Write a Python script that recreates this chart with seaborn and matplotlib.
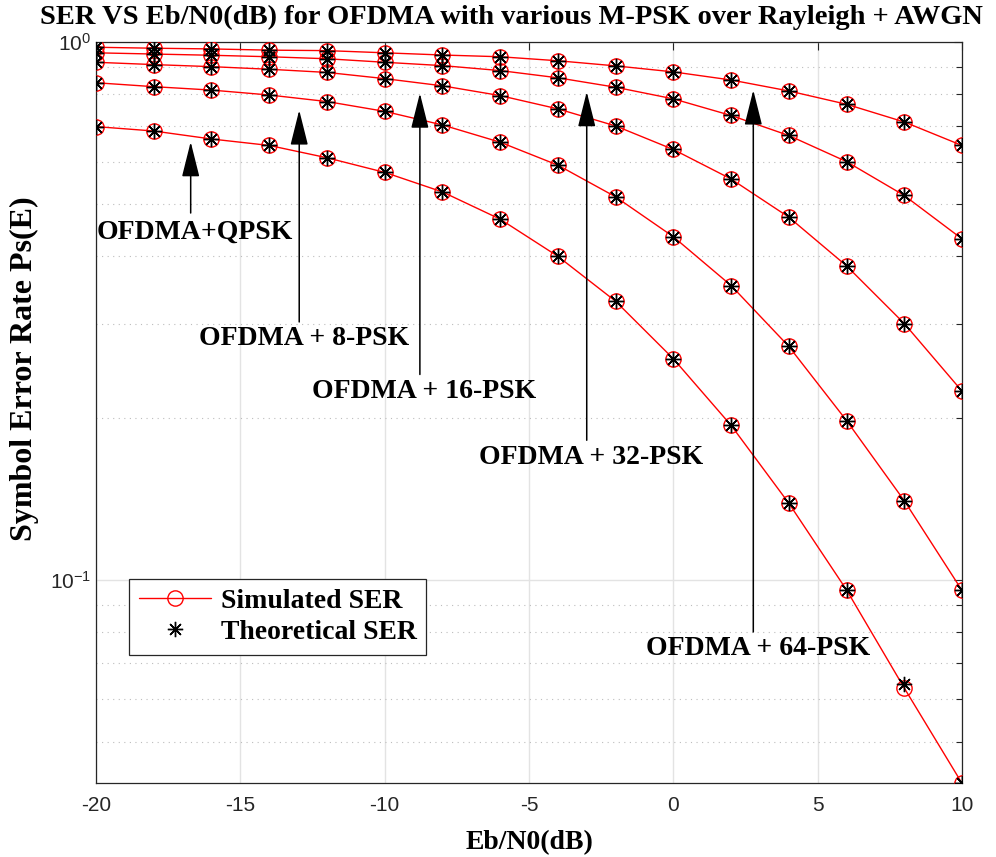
import numpy as np
import pandas as pd
import matplotlib
matplotlib.use('Agg')
import matplotlib.pyplot as plt
from matplotlib.lines import Line2D
from matplotlib.ticker import LogLocator, NullFormatter
import seaborn as sns

# Eb/N0 grid (dB)
ebn0 = [-20, -18, -16, -14, -12, -10, -8, -6, -4, -2, 0, 2, 4, 6, 8, 10]

# simulated SER per modulation
ser_qpsk = [0.697, 0.684, 0.661, 0.643, 0.610, 0.573, 0.527, 0.469, 0.400, 0.330,
            0.258, 0.194, 0.139, 0.0959, 0.0630, 0.0419]
ser_8psk = [0.841, 0.827, 0.815, 0.798, 0.776, 0.744, 0.702, 0.652, 0.591, 0.516,
            0.435, 0.353, 0.272, 0.198, 0.1405, 0.0957]
ser_16psk = [0.918, 0.909, 0.901, 0.891, 0.879, 0.856, 0.830, 0.796, 0.752, 0.699,
             0.632, 0.557, 0.473, 0.384, 0.300, 0.2246]
ser_32psk = [0.956, 0.951, 0.946, 0.940, 0.932, 0.918, 0.905, 0.886, 0.859, 0.825,
             0.785, 0.731, 0.671, 0.600, 0.519, 0.431]
ser_64psk = [0.979, 0.975, 0.972, 0.967, 0.965, 0.956, 0.947, 0.940, 0.924, 0.904,
             0.881, 0.851, 0.812, 0.767, 0.711, 0.643]

# theoretical SER (same as simulated except where the star visibly departs)
th_qpsk = ser_qpsk[:14] + [0.0642, 0.0419]
th_8psk = list(ser_8psk)
th_16psk = list(ser_16psk)
th_32psk = list(ser_32psk)
th_64psk = list(ser_64psk)

mods = ['QPSK', '8-PSK', '16-PSK', '32-PSK', '64-PSK']
sim_all = [ser_qpsk, ser_8psk, ser_16psk, ser_32psk, ser_64psk]
th_all = [th_qpsk, th_8psk, th_16psk, th_32psk, th_64psk]

# annotation labels, text anchor and arrow tail/tip (Eb/N0, SER)
ann_labels = ['OFDMA+QPSK', 'OFDMA + 8-PSK', 'OFDMA + 16-PSK', 'OFDMA + 32-PSK', 'OFDMA + 64-PSK']
ann_text = [(-16.57, 0.444), (-12.8, 0.2818), (-8.62, 0.2246), (-2.84, 0.1688), (2.95, 0.0746)]
ann_arrow_x = [-16.72, -12.96, -8.78, -3.0, 2.77]
ann_tail_y = [0.4815, 0.302, 0.2412, 0.182, 0.0801]
ann_tip_y = [0.653, 0.748, 0.804, 0.809, 0.815]

rows = []
for m, s, t in zip(mods, sim_all, th_all):
    for x, a, b in zip(ebn0, s, t):
        rows.append({'EbN0': x, 'SER': a, 'theory': b, 'mod': m})
df = pd.DataFrame(rows)

sns.set_style('white')
plt.rcParams['font.family'] = ['Liberation Sans', 'DejaVu Sans']
plt.rcParams['mathtext.default'] = 'regular'
plt.rcParams['axes.unicode_minus'] = False
serif = 'Liberation Serif'
tick_col = '#262626'

fig = plt.figure(figsize=(9.96, 8.57), dpi=100)
ax = fig.add_axes([96 / 996, 1 - 783.3 / 857, 866 / 996, 741 / 857])

for m in mods:
    d = df[df['mod'] == m]
    sns.lineplot(data=d, x='EbN0', y='SER', ax=ax, color='red', lw=1.0,
                 marker='o', markersize=11, markerfacecolor='none',
                 markeredgecolor='red', markeredgewidth=1.0, zorder=3)
for m in mods:
    d = df[df['mod'] == m]
    sns.lineplot(data=d, x='EbN0', y='theory', ax=ax, color='black',
                 linestyle='none', marker=(8, 2, 0), markersize=11,
                 markeredgecolor='black', markeredgewidth=1.0, zorder=4)

ax.set_yscale('log')
ax.set_xlim(-20, 10)
ax.set_ylim(min(ser_qpsk), 1)
ax.set_xticks([-20, -15, -10, -5, 0, 5, 10])
ax.yaxis.set_major_locator(LogLocator(base=10, numticks=10))
ax.yaxis.set_minor_locator(LogLocator(base=10, subs=np.arange(2, 10), numticks=20))
ax.yaxis.set_minor_formatter(NullFormatter())

ax.grid(True, which='major', color='#e3e3e3', lw=1.0, ls='-')
ax.grid(True, which='minor', axis='y', color='#bdbdbd', lw=0.8, ls=(0, (1, 4)))
ax.set_axisbelow(True)

ax.tick_params(which='both', direction='in', top=True, right=True, colors=tick_col,
               labelsize=15, labelcolor=tick_col)
ax.tick_params(which='major', length=6, width=0.8)
ax.tick_params(which='minor', length=4, width=0.8)
for sp in ax.spines.values():
    sp.set_color(tick_col)
    sp.set_linewidth(0.9)
ax.tick_params(axis='x', pad=9)

ax.set_xlabel('Eb/N0(dB)', fontfamily=serif, fontweight='bold', fontsize=20, color='black', labelpad=11)
ax.set_ylabel('Symbol Error Rate Ps(E)', fontfamily=serif, fontweight='bold', fontsize=23, color='black')
ax.yaxis.set_label_coords(-0.066, 0.56)
fig.text(511 / 996, 1 - 17 / 857, 'SER VS Eb/N0(dB) for OFDMA with various M-PSK over Rayleigh + AWGN',
         ha='center', va='center', fontfamily=serif, fontweight='bold', fontsize=20.5, color='black')

for lab, (tx, ty), axx, y0, y1 in zip(ann_labels, ann_text, ann_arrow_x, ann_tail_y, ann_tip_y):
    ax.annotate('', xy=(axx, y1), xytext=(axx, y0),
                arrowprops=dict(arrowstyle='-|>,head_length=2.2,head_width=0.55',
                                color='black', lw=1.1, shrinkA=0, shrinkB=0), zorder=5)
    ax.text(tx, ty, lab, ha='center', va='center', fontfamily=serif,
            fontweight='bold', fontsize=20, color='black', zorder=5)

handles = [Line2D([], [], color='red', lw=1.0, marker='o', markersize=11,
                  markerfacecolor='none', markeredgecolor='red'),
           Line2D([], [], color='black', ls='none', marker=(8, 2, 0), markersize=11)]
leg = ax.legend(handles, ['Simulated SER', 'Theoretical SER'], loc='upper left',
                bbox_to_anchor=(0.038, 0.2757), prop={'family': serif, 'weight': 'bold', 'size': 20},
                frameon=True, fancybox=False, framealpha=1, edgecolor=tick_col,
                handlelength=2.6, borderpad=0.35, labelspacing=0.2, handletextpad=0.35,
                borderaxespad=0)
leg.get_frame().set_linewidth(0.9)
for t in leg.get_texts():
    t.set_color('black')

fig.savefig('out.png', dpi=100, facecolor='white')
